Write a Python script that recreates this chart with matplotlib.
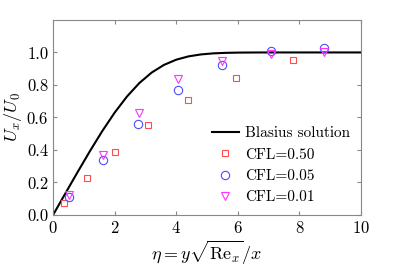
import matplotlib.pyplot as plt

plt.rcParams['font.family'] = 'serif'
plt.rcParams['font.serif'] = ['cmr10']
plt.rcParams['mathtext.fontset'] = 'cm'
plt.rcParams['axes.formatter.use_mathtext'] = True

# Blasius profile
eta_blasius = [0, 0.4, 0.8, 1.2, 1.6, 2.0, 2.4, 2.8, 3.2, 3.6, 4.0, 4.4, 4.8,
               5.2, 5.6, 6.0, 6.4, 6.8, 7.2, 8.0, 10.0]
u_blasius = [0, 0.1328, 0.2647, 0.3938, 0.5168, 0.6298, 0.7290, 0.8115, 0.8761,
             0.9233, 0.9555, 0.9759, 0.9878, 0.9943, 0.9975, 0.9990, 0.9996,
             0.9999, 1.0, 1.0, 1.0]

eta_cfl50 = [0.36, 1.1, 2.0, 3.08, 4.38, 5.94, 7.78]
u_cfl50 = [0.074, 0.23, 0.39, 0.553, 0.71, 0.845, 0.955]

eta_cfl05 = [0.53, 1.61, 2.77, 4.07, 5.49, 7.07, 8.8]
u_cfl05 = [0.11, 0.335, 0.56, 0.77, 0.925, 1.007, 1.03]

eta_cfl01 = [0.53, 1.61, 2.79, 4.07, 5.49, 7.07, 8.8]
u_cfl01 = [0.12, 0.37, 0.63, 0.835, 0.945, 0.99, 1.0]

fig = plt.figure(figsize=(3.99, 2.66), dpi=100)
ax = fig.add_axes([0.133, 0.192, 0.772, 0.733])

ax.plot(eta_blasius, u_blasius, color='black', lw=1.5, label='Blasius solution')
ax.plot(eta_cfl50, u_cfl50, 's', ms=5, mfc='none', mec='#ff4d4d', mew=0.8,
        label='CFL=0.50')
ax.plot(eta_cfl05, u_cfl05, 'o', ms=6, mfc='none', mec='#4d4dff', mew=0.8,
        label='CFL=0.05')
ax.plot(eta_cfl01, u_cfl01, 'v', ms=6, mfc='none', mec='#ff33ff', mew=0.8,
        label='CFL=0.01')

ax.set_xlim(0, 10)
ax.set_ylim(0, 1.2)
ax.set_xticks([0, 2, 4, 6, 8, 10])
ax.set_yticks([0, 0.2, 0.4, 0.6, 0.8, 1.0])
ax.set_yticklabels(['0.0', '0.2', '0.4', '0.6', '0.8', '1.0'])
ax.tick_params(direction='in', top=True, right=True, labelsize=12,
               color='#888888', length=3)
for s in ax.spines.values():
    s.set_color('#888888')
    s.set_linewidth(0.8)

ax.set_xlabel(r'$\eta = y\sqrt{\mathrm{Re}_x}/x$', fontsize=13, labelpad=2)
ax.set_ylabel(r'$U_x/U_0$', fontsize=13, labelpad=2)

ax.legend(loc='lower right', frameon=False, fontsize=11, handlelength=1.8,
          borderaxespad=0.3, labelspacing=0.5, handletextpad=0.4)

fig.savefig('out.png', dpi=100)
